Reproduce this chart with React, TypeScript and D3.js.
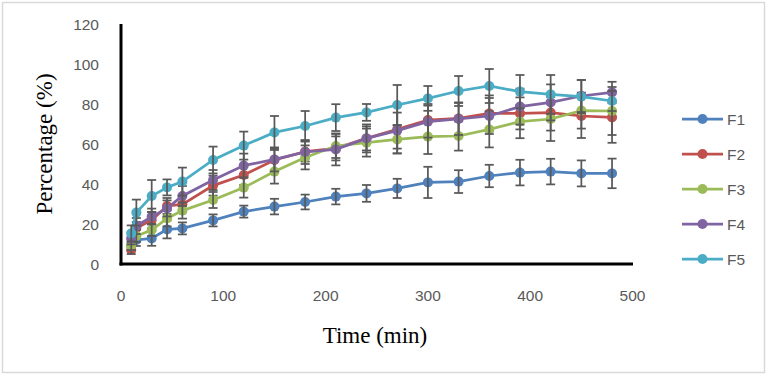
import React from "react";
import * as d3 from "d3";

const times = [10, 15, 30, 45, 60, 90, 120, 150, 180, 210, 240, 270, 300, 330, 360, 390, 420, 450, 480];
const seriesNames = ["F1", "F2", "F3", "F4", "F5"];
const seriesColors = ["#4F81BD", "#C0504D", "#9BBB59", "#8064A2", "#4BACC6"];
const f1 = [9.5, 12, 12.8, 17.3, 17.8, 21.8, 26.2, 28.7, 31, 33.7, 35.3, 37.8, 40.8, 41.2, 44, 45.7, 46.2, 45.3, 45.3];
const f2 = [7, 18, 22, 29, 29.8, 39.2, 44.5, 52, 56.2, 57.8, 62.8, 67.3, 72, 72.8, 75.3, 75.3, 75.7, 74, 73.3];
const f3 = [9, 14, 17, 22.8, 26.7, 32, 38.2, 46.2, 53.3, 59, 60.7, 62.3, 63.7, 64, 67.3, 71.2, 72.5, 76.7, 76.5];
const f4 = [12.8, 19, 23.7, 27.8, 34, 42, 49.2, 52.3, 56, 57.3, 62.8, 66.7, 71.2, 72.5, 74, 78.7, 80.8, 84, 85.8];
const f5 = [15.3, 25.7, 34, 38.3, 41.2, 52, 59.2, 65.8, 69, 73.2, 75.8, 79.5, 82.8, 86.5, 89, 86.2, 84.8, 83.7, 81.5];
const e1 = [3, 3, 3.7, 4.5, 3, 3, 3, 3.9, 3.7, 3.9, 4.2, 4.8, 7.8, 5.7, 5.6, 6.4, 6.4, 6.5, 7.4];
const e2 = [2, 3, 4, 4, 4, 5, 5, 5, 5, 6, 6, 12, 8, 8, 9, 8, 9, 11, 12.7];
const e3 = [2, 3, 3, 4, 4, 4, 5, 6, 6, 6, 7, 7, 8.7, 7.3, 9, 8.3, 11, 9, 12];
const e4 = [3, 4, 4, 4, 5, 5, 6, 6, 6, 8, 7, 9, 8, 8, 9, 9, 9, 8, 5.3];
const e5 = [4, 6.5, 8, 4, 7, 6.7, 7, 8.2, 7.5, 6.7, 4.2, 10, 6.2, 7.5, 8.5, 8.3, 9.7, 8.3, 5];
const xTicks = [0, 100, 200, 300, 400, 500];
const yTicks = [0, 20, 40, 60, 80, 100, 120];

const values = [f1, f2, f3, f4, f5];
const errors = [e1, e2, e3, e4, e5];

export default function App() {
  const W = 768, H = 379;
  const x = d3.scaleLinear().domain([0, 500]).range([121, 632.5]);
  const y = d3.scaleLinear().domain([0, 120]).range([264, 24]);
  const line = d3.line<number>().x((_, i) => x(times[i])).y((v) => y(v));
  const tickFont = "'Liberation Sans', Arial, sans-serif";
  const serif = "'Liberation Serif', 'Times New Roman', serif";

  return (
    <svg width={W} height={H} style={{ position: "absolute", left: 0, top: 0, background: "#fff" }}>
      <rect x={2.5} y={2.5} width={762} height={370} fill="#fff" stroke="#D9D9D9" strokeWidth={1.5} />
      {yTicks.map((t) => (
        <text key={"y" + t} x={99} y={y(t) + 5.5} textAnchor="end" fontFamily={tickFont} fontSize={15.5} fill="#595959">
          {t}
        </text>
      ))}
      {xTicks.map((t) => (
        <text key={"x" + t} x={x(t)} y={301} textAnchor="middle" fontFamily={tickFont} fontSize={15.5} fill="#595959">
          {t}
        </text>
      ))}
      {values.map((vals, si) => (
        <g key={"s" + si}>
          <path d={line(vals) || ""} fill="none" stroke={seriesColors[si]} strokeWidth={2.75} />
          {vals.map((v, i) => (
            <circle key={i} cx={x(times[i])} cy={y(v)} r={5} fill={seriesColors[si]} />
          ))}
          {vals.map((v, i) => {
            const cx = x(times[i]);
            const top = y(v + errors[si][i]);
            const bot = y(v - errors[si][i]);
            return (
              <g key={"e" + i} stroke="#595959" strokeWidth={1.75}>
                <line x1={cx} x2={cx} y1={top} y2={bot} />
                <line x1={cx - 4.5} x2={cx + 4.5} y1={top} y2={top} />
                <line x1={cx - 4.5} x2={cx + 4.5} y1={bot} y2={bot} />
              </g>
            );
          })}
        </g>
      ))}
      <line x1={121} x2={121} y1={24} y2={265.5} stroke="#000" strokeWidth={3} />
      <line x1={119.5} x2={633} y1={264} y2={264} stroke="#000" strokeWidth={3} />
      <text x={375} y={343} textAnchor="middle" fontFamily={serif} fontSize={23} fill="#000">
        Time (min)
      </text>
      <text
        transform={`translate(52,144) rotate(-90)`}
        textAnchor="middle"
        fontFamily={serif}
        fontSize={23}
        fill="#000"
      >
        Percentage (%)
      </text>
      {seriesNames.map((n, i) => {
        const ly = 119 + i * 35;
        return (
          <g key={"l" + n}>
            <line x1={682} x2={723} y1={ly} y2={ly} stroke={seriesColors[i]} strokeWidth={2.75} />
            <circle cx={702.5} cy={ly} r={5} fill={seriesColors[i]} />
            <text x={727} y={ly + 5.5} fontFamily={tickFont} fontSize={15.5} fill="#595959">
              {n}
            </text>
          </g>
        );
      })}
    </svg>
  );
}
